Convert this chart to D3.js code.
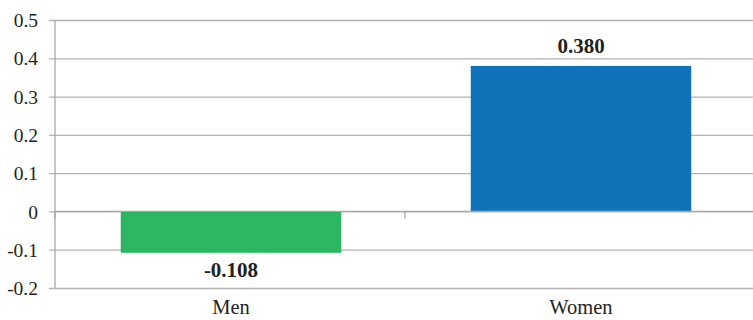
<!DOCTYPE html>
<html>
<head>
<meta charset="utf-8">
<script src="https://cdn.jsdelivr.net/npm/d3@7"></script>
<style>
  body { margin: 0; background: #fff; }
</style>
</head>
<body>
<div id="chart"></div>
<script>
// chart data
var categories = ["Men", "Women"];
var values = [-0.108, 0.380];
var valueLabels = ["-0.108", "0.380"];
var barColors = ["#2db662", "#0e73b9"];
var yTicks = [-0.2, -0.1, 0, 0.1, 0.2, 0.3, 0.4, 0.5];
var yTickLabels = ["-0.2", "-0.1", "0", "0.1", "0.2", "0.3", "0.4", "0.5"];

var width = 753, height = 320;
var margin = { top: 20, right: -2, bottom: 32, left: 55 };
var serif = "Liberation Serif";
var textColor = "#231f20";

var svg = d3.select("#chart").append("svg")
    .attr("width", width)
    .attr("height", height);

var x = d3.scaleBand()
    .domain(categories)
    .range([margin.left + 1, width - margin.right + 1])
    .paddingInner(0.37)
    .paddingOuter(0.185);

// band edges for the category axis ticks
var step = (width - margin.right - margin.left) / categories.length;

var y = d3.scaleLinear()
    .domain([-0.2, 0.5])
    .range([height - margin.bottom, margin.top]);

// horizontal gridlines + tick labels
var yAxis = svg.append("g")
    .attr("transform", "translate(" + margin.left + ",0)")
    .call(d3.axisLeft(y)
        .tickValues(yTicks)
        .tickFormat(function (d, i) { return yTickLabels[i]; })
        .tickSize(6)
        .tickPadding(11));
yAxis.attr("font-family", serif).attr("font-size", 19.5);
yAxis.select(".domain").remove();
yAxis.selectAll(".tick line")
    .attr("x2", width - margin.left)
    .attr("x1", -6)
    .attr("stroke", "#b4b4b4")
    .attr("stroke-width", 1.3);
yAxis.selectAll(".tick text")
    .attr("dy", "0.34em")
    .attr("fill", textColor);

// vertical axis line
svg.append("line")
    .attr("x1", margin.left).attr("x2", margin.left)
    .attr("y1", y(0.5)).attr("y2", y(-0.2))
    .attr("stroke", "#a8a8a8")
    .attr("stroke-width", 1.3);

// bars
svg.selectAll(".bar")
    .data(values)
    .enter().append("rect")
    .attr("class", "bar")
    .attr("x", function (d, i) { return x(categories[i]); })
    .attr("width", x.bandwidth())
    .attr("y", function (d) { return y(Math.max(0, d)); })
    .attr("height", function (d) { return Math.abs(y(d) - y(0)); })
    .attr("fill", function (d, i) { return barColors[i]; });

// zero line with tick marks at band edges
svg.append("line")
    .attr("x1", margin.left).attr("x2", width)
    .attr("y1", y(0)).attr("y2", y(0))
    .attr("stroke", "#a8a8a8")
    .attr("stroke-width", 1.3);
d3.range(categories.length + 1).forEach(function (i) {
    var xx = margin.left + i * step;
    svg.append("line")
        .attr("x1", xx).attr("x2", xx)
        .attr("y1", y(0)).attr("y2", y(0) + 7)
        .attr("stroke", "#a8a8a8")
        .attr("stroke-width", 1.3);
});

// value labels
svg.selectAll(".vlabel")
    .data(values)
    .enter().append("text")
    .attr("class", "vlabel")
    .attr("text-anchor", "middle")
    .attr("x", function (d, i) { return x(categories[i]) + x.bandwidth() / 2; })
    .attr("y", function (d) { return d >= 0 ? y(d) - 13 : y(d) + 24; })
    .attr("font-family", serif)
    .attr("font-size", 21)
    .attr("font-weight", "bold")
    .attr("fill", textColor)
    .text(function (d, i) { return valueLabels[i]; });

// category labels
svg.selectAll(".clabel")
    .data(categories)
    .enter().append("text")
    .attr("class", "clabel")
    .attr("text-anchor", "middle")
    .attr("x", function (d) { return x(d) + x.bandwidth() / 2; })
    .attr("y", 314)
    .attr("font-family", serif)
    .attr("font-size", 20.5)
    .attr("fill", textColor)
    .text(function (d) { return d; });
</script>
</body>
</html>
